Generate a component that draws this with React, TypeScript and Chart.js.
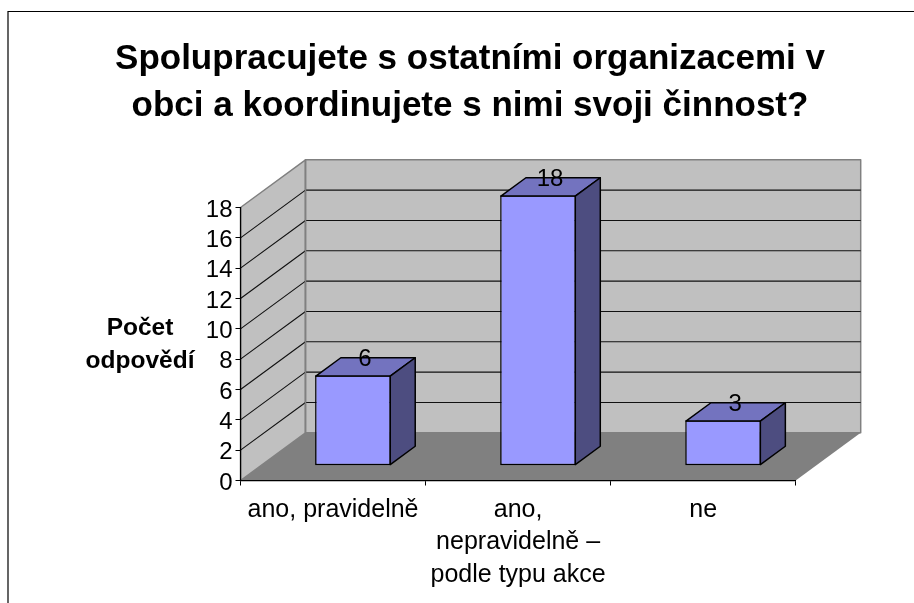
import React, { useEffect, useRef } from "react";
import { Chart, registerables } from "chart.js";

Chart.register(...registerables);

const categories: (string | string[])[] = [
  "ano, pravidelně",
  ["ano,", "nepravidelně –", "podle typu akce"],
  "ne",
];
const answers = [6, 18, 3];
const titleLines = [
  "Spolupracujete s ostatními organizacemi v",
  "obci a koordinujete s nimi svoji činnost?",
];
const yTitleLines = ["Počet", "odpovědí"];

const FONT = "'Liberation Sans', Arial, sans-serif";
const WALL_DX = 65;
const WALL_DY = 47.7;
const BAR_SHIFT_X = 20;
const BAR_SHIFT_Y = 15.2;
const BAR_DX = 25;
const BAR_DY = 18.3;
const BAR_EDGE = 1.5;

function poly(ctx: CanvasRenderingContext2D, pts: number[][], fill?: string, stroke?: string, lw = 1) {
  ctx.beginPath();
  pts.forEach((p, i) => (i ? ctx.lineTo(p[0], p[1]) : ctx.moveTo(p[0], p[1])));
  ctx.closePath();
  if (fill) {
    ctx.fillStyle = fill;
    ctx.fill();
  }
  if (stroke) {
    ctx.strokeStyle = stroke;
    ctx.lineWidth = lw;
    ctx.lineJoin = "round";
    ctx.stroke();
  }
}

const scenePlugin = {
  id: "scene3d",
  beforeDraw(chart: any) {
    const { ctx, chartArea: a, scales } = chart;
    const y = scales.y;
    const L = a.left, R = a.right, T = a.top, B = a.bottom;
    const dx = WALL_DX, dy = WALL_DY;
    ctx.save();
    // page frame
    ctx.strokeStyle = "#000";
    ctx.lineWidth = 1.2;
    ctx.beginPath();
    ctx.moveTo(8, 603);
    ctx.lineTo(8, 11.5);
    ctx.lineTo(914, 11.5);
    ctx.stroke();
    // walls
    poly(ctx, [[L, B], [L, T], [L + dx, T - dy], [L + dx, B - dy]], "#C0C0C0", "#808080", 1.5);
    poly(ctx, [[L + dx, B - dy], [L + dx, T - dy], [R + dx, T - dy], [R + dx, B - dy]], "#C0C0C0", "#808080", 1.5);
    // wall gridlines
    ctx.strokeStyle = "#111";
    ctx.lineWidth = 1.1;
    y.ticks.forEach((t: any) => {
      if (t.value === 0 || t.value === y.max) return;
      const py = y.getPixelForValue(t.value);
      ctx.beginPath();
      ctx.moveTo(L, py);
      ctx.lineTo(L + dx, py - dy);
      ctx.lineTo(R + dx, py - dy);
      ctx.stroke();
    });
    // re-stroke the wall corner over the lines
    ctx.strokeStyle = "#808080";
    ctx.lineWidth = 1.5;
    ctx.beginPath();
    ctx.moveTo(L + dx, T - dy);
    ctx.lineTo(L + dx, B - dy);
    ctx.stroke();
    // floor
    poly(ctx, [[L, B], [R, B], [R + dx, B - dy], [L + dx, B - dy]], "#808080");
    // y title
    ctx.fillStyle = "#000";
    ctx.font = `bold 24.5px ${FONT}`;
    ctx.textAlign = "center";
    ctx.textBaseline = "middle";
    yTitleLines.forEach((s, i) => ctx.fillText(s, 140, 328 + i * 33.5));
    ctx.restore();
  },
  beforeDatasetsDraw(chart: any) {
    chart.ctx.save();
    chart.ctx.translate(BAR_SHIFT_X, -BAR_SHIFT_Y);
  },
  afterDatasetsDraw(chart: any) {
    const { ctx } = chart;
    const bars = chart.getDatasetMeta(0).data;
    const inset = BAR_EDGE / 2;
    bars.forEach((b: any) => {
      const l = b.x - b.width / 2 + inset, r = b.x + b.width / 2 - inset, t = b.y + inset, bt = b.base - inset;
      poly(ctx, [[l, t], [r, t], [r + BAR_DX, t - BAR_DY], [l + BAR_DX, t - BAR_DY]], "#7373BF", "#000", BAR_EDGE);
      poly(ctx, [[r, t], [r + BAR_DX, t - BAR_DY], [r + BAR_DX, bt - BAR_DY], [r, bt]], "#4D4D80", "#000", BAR_EDGE);
    });
    // value labels
    ctx.fillStyle = "#000";
    ctx.font = `24px ${FONT}`;
    ctx.textAlign = "center";
    ctx.textBaseline = "middle";
    bars.forEach((b: any, i: number) => {
      ctx.fillText(String(answers[i]), b.x + BAR_DX / 2 - 0.5, b.y - BAR_DY + 2);
    });
    ctx.restore();
  },
};

export default function App() {
  const ref = useRef<HTMLCanvasElement>(null);
  useEffect(() => {
    const chart = new Chart(ref.current as HTMLCanvasElement, {
      type: "bar",
      data: {
        labels: categories as any,
        datasets: [
          {
            data: answers,
            yAxisID: "yBar",
            backgroundColor: "#9999FF",
            borderColor: "#000",
            borderWidth: BAR_EDGE,
            borderSkipped: false,
            categoryPercentage: 0.41,
            barPercentage: 1,
            clip: false as any,
          },
        ],
      },
      options: {
        animation: false,
        responsive: false,
        maintainAspectRatio: false,
        layout: { padding: { left: 110, right: 84, top: 0, bottom: 0 } },
        plugins: {
          legend: { display: false },
          tooltip: { enabled: false },
          title: {
            display: true,
            text: titleLines,
            color: "#000",
            font: { family: FONT, size: 35, weight: "bold", lineHeight: 1.343 },
            padding: { top: 36, bottom: 77.5 },
          },
        },
        scales: {
          x: {
            offset: true,
            grid: { display: true, drawOnChartArea: false, drawTicks: true, tickLength: 5, color: "#000", offset: true },
            border: { display: true, color: "#000", width: 1.2 },
            ticks: {
              autoSkip: false,
              maxRotation: 0,
              minRotation: 0,
              color: "#000",
              padding: 8,
              font: { family: FONT, size: 25, lineHeight: "32.5px" as any },
            },
            afterFit(s: any) {
              s.height = 122.5;
            },
          },
          y: {
            min: 0,
            max: 18,
            position: "left",
            grid: { display: true, drawOnChartArea: false, drawTicks: true, tickLength: 5, color: "#000" },
            border: { display: true, color: "#000", width: 1.2 },
            ticks: {
              stepSize: 2,
              autoSkip: false,
              color: "#000",
              padding: 3,
              labelOffset: 2.5,
              font: { family: FONT, size: 24 },
            },
            afterFit(s: any) {
              s.width = 130.5;
            },
          },
          yBar: {
            display: true,
            min: 0,
            max: 18.2,
            position: "right",
            grid: { display: false },
            border: { display: false },
            ticks: { display: false },
            afterFit(s: any) {
              s.width = 34.3;
            },
          },
        },
      },
      plugins: [scenePlugin as any],
    });
    return () => chart.destroy();
  }, []);
  return (
    <canvas
      ref={ref}
      width={914}
      height={603}
      style={{ position: "absolute", left: 0, top: 0, width: 914, height: 603, display: "block" }}
    />
  );
}
